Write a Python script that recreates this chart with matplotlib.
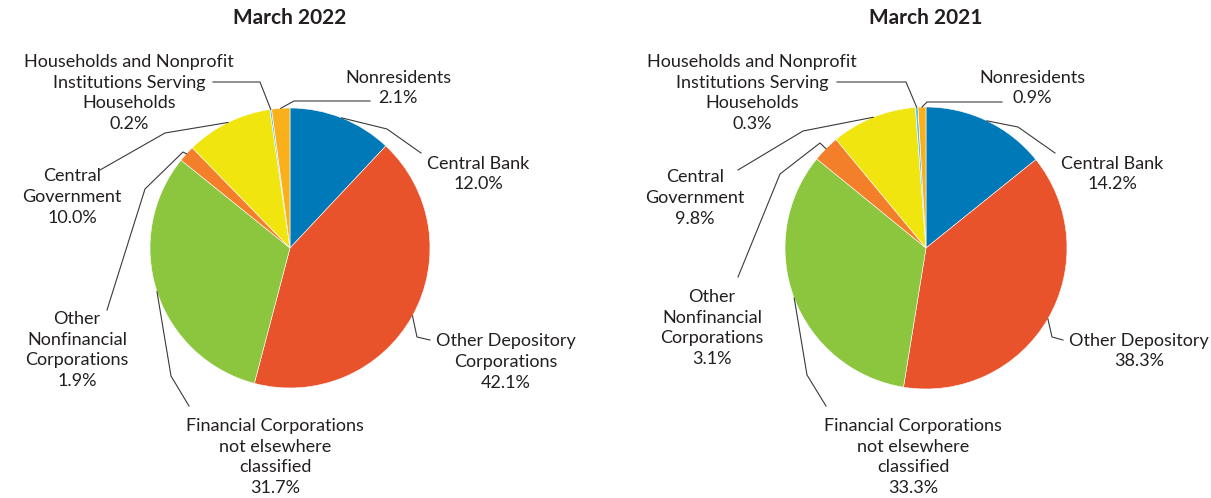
import numpy as np
import matplotlib
matplotlib.use("Agg")
import matplotlib.pyplot as plt

# 数据
sectors = ["Central Bank", "Other Depository", "Financial Corporations",
           "Other Nonfinancial", "Central Government", "Households", "Nonresidents"]
share_2022 = [12.0, 42.1, 31.7, 1.9, 10.0, 0.2, 2.1]
share_2021 = [14.2, 38.3, 33.3, 3.1, 9.8, 0.3, 0.9]

labels_2022 = ["Central Bank", "Other Depository\nCorporations",
               "Financial Corporations\nnot elsewhere\nclassified",
               "Other\nNonfinancial\nCorporations", "Central\nGovernment",
               "Households and Nonprofit\nInstitutions Serving\nHouseholds",
               "Nonresidents"]
labels_2021 = ["Central Bank", "Other Depository",
               "Financial Corporations\nnot elsewhere\nclassified",
               "Other\nNonfinancial\nCorporations", "Central\nGovernment",
               "Households and Nonprofit\nInstitutions Serving\nHouseholds",
               "Nonresidents"]

colors = ["#0079b8", "#e9532b", "#8cc63f", "#f47f2a", "#f0e50f", "#5bc5f2", "#f9b01b"]
TXT = "#231f20"
LINE = "#3a3a3a"

# 布局 (像素坐标, y 向下)
layout_2022 = {
    "center": (290, 248), "radius": 140, "title": "March 2022",
    "text": [(478, 174), (506, 362), (275, 457), (77, 350), (72, 197), (129, 93), (398, 88)],
    "lead": [[(421, 153), (387, 129)], [(430, 340), (417, 337)], [(189, 406), (171, 376)],
             [(107, 310), (145, 189), (183, 152)], [(100, 170), (165, 133)],
             [(213, 82), (260, 82)], [(370, 101), (294, 101)]],
}
layout_2021 = {
    "center": (926, 248), "radius": 141, "title": "March 2021",
    "text": [(1112, 174), (1139, 351), (913, 457), (712, 328), (695, 198), (752, 93), (1032, 88)],
    "lead": [[(1055, 153), (1018, 127)], [(1063, 340), (1052, 337)], [(826, 406), (807, 375)],
             [(738, 277), (780, 174), (820, 143)], [(738, 170), (803, 131)],
             [(837, 82), (906, 82)], [(1002, 102), (927, 102)]],
}


def draw_pie(ax, values, labels, lay):
    cx, cy = lay["center"]
    r = lay["radius"]
    # y 轴反向, 所以 startangle=-90 + 逆时针 = 视觉上从顶部顺时针
    wedges, _ = ax.pie(values, colors=colors, startangle=-90, counterclock=True,
                       radius=r, center=(cx, cy),
                       wedgeprops=dict(edgecolor="white", linewidth=0.4))
    for i, w in enumerate(wedges):
        th = np.deg2rad((w.theta1 + w.theta2) / 2)
        ax_pt = (cx + r * np.cos(th), cy + r * np.sin(th))
        pts = lay["lead"][i] + [ax_pt]
        xs, ys = zip(*pts)
        ax.plot(xs, ys, color=LINE, lw=0.8, solid_joinstyle="miter")
        tx, ty = lay["text"][i]
        ax.text(tx, ty, "%s\n%.1f%%" % (labels[i], values[i]), ha="center", va="center",
                fontsize=13, color=TXT, linespacing=1.38)
    ax.text(cx, 18, lay["title"], ha="center", va="center", fontsize=15,
            fontweight="bold", color=TXT)


plt.rcParams["font.family"] = ["Lato", "DejaVu Sans"]
fig = plt.figure(figsize=(12.11, 4.98), dpi=100)
ax = fig.add_axes([0, 0, 1, 1])
draw_pie(ax, share_2022, labels_2022, layout_2022)
draw_pie(ax, share_2021, labels_2021, layout_2021)
ax.set_xlim(0, 1211)
ax.set_ylim(498, 0)
ax.set_aspect("equal")
ax.axis("off")
fig.savefig("out.png", dpi=100)
